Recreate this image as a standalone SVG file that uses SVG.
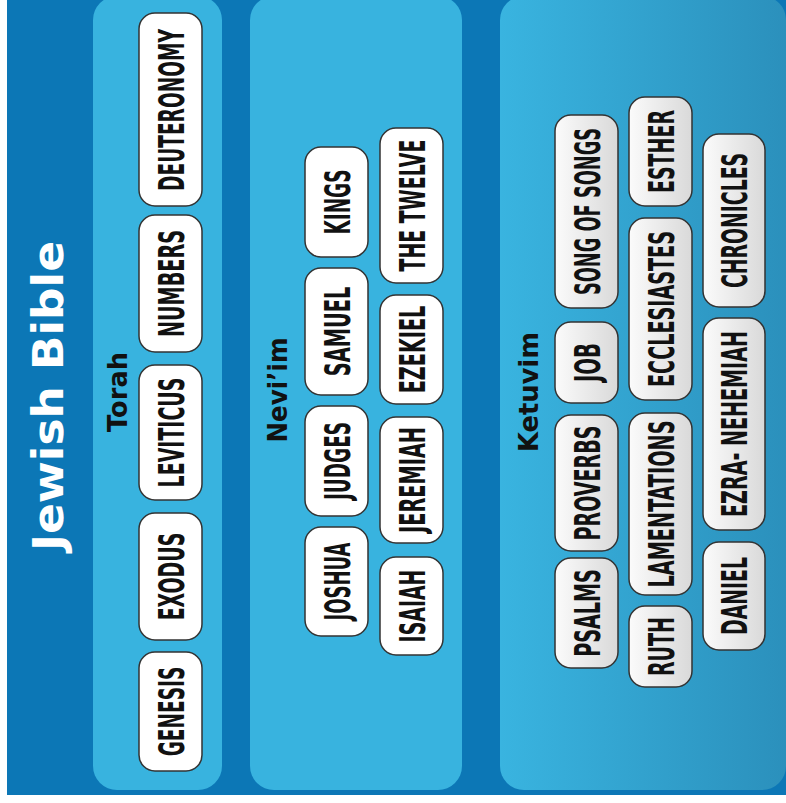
<svg xmlns="http://www.w3.org/2000/svg" width="786" height="803" viewBox="0 0 786 803">
<defs>
<linearGradient id="ketGrad" x1="0" y1="0" x2="1" y2="0">
<stop offset="0" stop-color="#39b4e0"/>
<stop offset="1" stop-color="#2b90bc"/>
</linearGradient>
<linearGradient id="boxGrad" x1="0" y1="0" x2="1" y2="0">
<stop offset="0" stop-color="#fbfbfb"/>
<stop offset="1" stop-color="#d9d9d9"/>
</linearGradient>
</defs>
<style>
.panel{fill:#38b3df}
.box{fill:#ffffff;stroke:#333333;stroke-width:1.5}
.kbox{fill:url(#boxGrad);stroke:#333333;stroke-width:1.5}
.book{font-family:"DejaVu Sans Condensed","DejaVu Sans",sans-serif;font-stretch:condensed;font-weight:bold;font-size:36px;fill:#111111;text-anchor:middle}
.sec{font-family:"DejaVu Sans",sans-serif;font-weight:bold;font-size:26px;fill:#111111;text-anchor:middle}
.title{font-family:"DejaVu Sans",sans-serif;font-weight:bold;font-size:42px;fill:#ffffff;text-anchor:middle}
</style>
<rect x="0" y="0" width="786" height="803" fill="#ffffff"/>
<rect x="7" y="0" width="779" height="795" fill="#0c77b6"/>
<text class="title" transform="translate(63,396) rotate(-90)" textLength="310" lengthAdjust="spacingAndGlyphs">Jewish Bible</text>

<g id="torah">
<rect class="panel" x="93" y="-4" width="129" height="794" rx="24"/>
<text class="sec" transform="translate(127,392) rotate(-90)" textLength="80" lengthAdjust="spacingAndGlyphs">Torah</text>
</g>
<g id="neviim">
<rect class="panel" x="250" y="-4" width="212" height="794" rx="24"/>
<text class="sec" transform="translate(287,390) rotate(-90)" textLength="105" lengthAdjust="spacingAndGlyphs">Nevi’im</text>
</g>
<g id="ketuvim">
<rect x="500" y="-4" width="286" height="794" rx="24" fill="url(#ketGrad)"/>
<text class="sec" transform="translate(538,392) rotate(-90)" textLength="120" lengthAdjust="spacingAndGlyphs">Ketuvim</text>
</g>

<g id="deuteronomy"><rect class="box" x="139" y="13" width="63" height="193" rx="16"/><text class="book" transform="translate(183.5,110) rotate(-90) scale(0.65,1)" textLength="249" lengthAdjust="spacingAndGlyphs">DEUTERONOMY</text></g>
<g id="numbers"><rect class="box" x="139" y="215" width="63" height="137" rx="16"/><text class="book" transform="translate(183.5,283.5) rotate(-90) scale(0.65,1)" textLength="165" lengthAdjust="spacingAndGlyphs">NUMBERS</text></g>
<g id="leviticus"><rect class="box" x="139" y="365" width="63" height="135" rx="16"/><text class="book" transform="translate(183.5,432.5) rotate(-90) scale(0.65,1)" textLength="169" lengthAdjust="spacingAndGlyphs">LEVITICUS</text></g>
<g id="exodus"><rect class="box" x="139" y="513" width="63" height="127" rx="16"/><text class="book" transform="translate(183.5,576.5) rotate(-90) scale(0.65,1)" textLength="135" lengthAdjust="spacingAndGlyphs">EXODUS</text></g>
<g id="genesis"><rect class="box" x="139" y="652" width="63" height="119" rx="16"/><text class="book" transform="translate(183.5,711.5) rotate(-90) scale(0.65,1)" textLength="138" lengthAdjust="spacingAndGlyphs">GENESIS</text></g>

<g id="kings"><rect class="box" x="305" y="147" width="63" height="110" rx="16"/><text class="book" transform="translate(349.5,202) rotate(-90) scale(0.65,1)" textLength="100" lengthAdjust="spacingAndGlyphs">KINGS</text></g>
<g id="samuel"><rect class="box" x="305" y="268" width="63" height="127" rx="16"/><text class="book" transform="translate(349.5,331.5) rotate(-90) scale(0.65,1)" textLength="138" lengthAdjust="spacingAndGlyphs">SAMUEL</text></g>
<g id="judges"><rect class="box" x="305" y="406" width="63" height="110" rx="16"/><text class="book" transform="translate(349.5,461) rotate(-90) scale(0.65,1)" textLength="120" lengthAdjust="spacingAndGlyphs">JUDGES</text></g>
<g id="joshua"><rect class="box" x="305" y="527" width="63" height="109" rx="16"/><text class="book" transform="translate(349.5,581.5) rotate(-90) scale(0.65,1)" textLength="120" lengthAdjust="spacingAndGlyphs">JOSHUA</text></g>
<g id="the-twelve"><rect class="box" x="380" y="128" width="63" height="155" rx="16"/><text class="book" transform="translate(424.5,205.5) rotate(-90) scale(0.65,1)" textLength="203" lengthAdjust="spacingAndGlyphs">THE TWELVE</text></g>
<g id="ezekiel"><rect class="box" x="380" y="295" width="63" height="109" rx="16"/><text class="book" transform="translate(424.5,349.5) rotate(-90) scale(0.65,1)" textLength="135" lengthAdjust="spacingAndGlyphs">EZEKIEL</text></g>
<g id="jeremiah"><rect class="box" x="380" y="417" width="63" height="126" rx="16"/><text class="book" transform="translate(424.5,480) rotate(-90) scale(0.65,1)" textLength="163" lengthAdjust="spacingAndGlyphs">JEREMIAH</text></g>
<g id="isaiah"><rect class="box" x="380" y="557" width="63" height="98" rx="16"/><text class="book" transform="translate(424.5,606) rotate(-90) scale(0.65,1)" textLength="112" lengthAdjust="spacingAndGlyphs">ISAIAH</text></g>

<g id="song-of-songs"><rect class="kbox" x="555" y="115" width="63" height="193" rx="16"/><text class="book" transform="translate(599.5,211.5) rotate(-90) scale(0.65,1)" textLength="257" lengthAdjust="spacingAndGlyphs">SONG OF SONGS</text></g>
<g id="job"><rect class="kbox" x="555" y="322" width="63" height="81" rx="16"/><text class="book" transform="translate(599.5,362.5) rotate(-90) scale(0.65,1)" textLength="60" lengthAdjust="spacingAndGlyphs">JOB</text></g>
<g id="proverbs"><rect class="kbox" x="555" y="415" width="63" height="136" rx="16"/><text class="book" transform="translate(599.5,483) rotate(-90) scale(0.65,1)" textLength="177" lengthAdjust="spacingAndGlyphs">PROVERBS</text></g>
<g id="psalms"><rect class="kbox" x="555" y="558" width="63" height="110" rx="16"/><text class="book" transform="translate(599.5,613) rotate(-90) scale(0.65,1)" textLength="135" lengthAdjust="spacingAndGlyphs">PSALMS</text></g>
<g id="esther"><rect class="kbox" x="629" y="97" width="63" height="109" rx="16"/><text class="book" transform="translate(673.5,151.5) rotate(-90) scale(0.65,1)" textLength="128" lengthAdjust="spacingAndGlyphs">ESTHER</text></g>
<g id="ecclesiastes"><rect class="kbox" x="629" y="218" width="63" height="182" rx="16"/><text class="book" transform="translate(673.5,309) rotate(-90) scale(0.65,1)" textLength="240" lengthAdjust="spacingAndGlyphs">ECCLESIASTES</text></g>
<g id="lamentations"><rect class="kbox" x="629" y="413" width="63" height="182" rx="16"/><text class="book" transform="translate(673.5,504) rotate(-90) scale(0.65,1)" textLength="257" lengthAdjust="spacingAndGlyphs">LAMENTATIONS</text></g>
<g id="ruth"><rect class="kbox" x="629" y="606" width="63" height="81" rx="16"/><text class="book" transform="translate(673.5,646.5) rotate(-90) scale(0.65,1)" textLength="91" lengthAdjust="spacingAndGlyphs">RUTH</text></g>
<g id="chronicles"><rect class="kbox" x="703" y="134" width="62" height="173" rx="16"/><text class="book" transform="translate(747,220.5) rotate(-90) scale(0.65,1)" textLength="208" lengthAdjust="spacingAndGlyphs">CHRONICLES</text></g>
<g id="ezra-nehemiah"><rect class="kbox" x="703" y="318" width="62" height="212" rx="16"/><text class="book" transform="translate(747,424) rotate(-90) scale(0.65,1)" textLength="286" lengthAdjust="spacingAndGlyphs">EZRA- NEHEMIAH</text></g>
<g id="daniel"><rect class="kbox" x="703" y="542" width="62" height="108" rx="16"/><text class="book" transform="translate(747,596) rotate(-90) scale(0.65,1)" textLength="120" lengthAdjust="spacingAndGlyphs">DANIEL</text></g>

<g id="connectors"/>
</svg>
